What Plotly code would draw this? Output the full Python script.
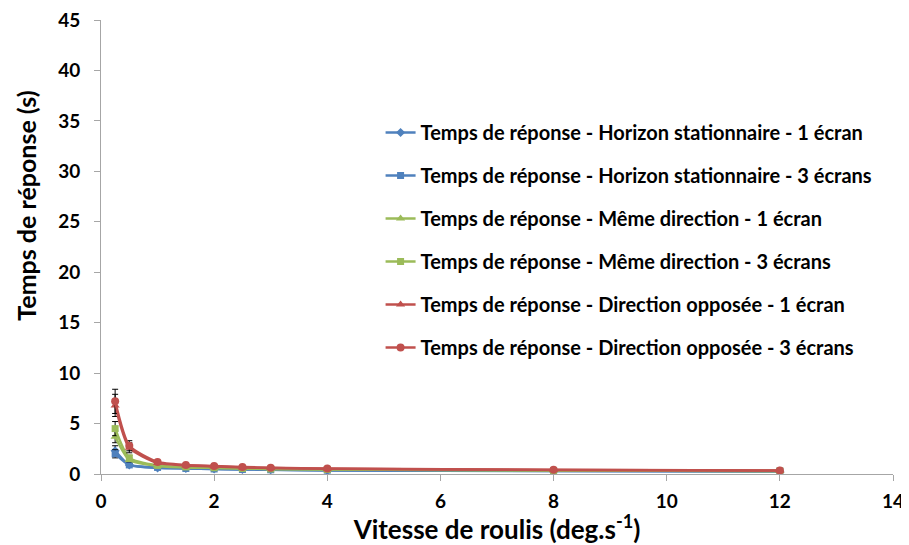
import plotly.graph_objects as go

x_vals = [0.25, 0.5, 1, 1.5, 2, 2.5, 3, 4, 8, 12]

hs1 = [2.3, 0.9, 0.6, 0.55, 0.5, 0.45, 0.42, 0.35, 0.3, 0.25]
hs1_err = [0.5, 0.15, 0.1, 0.08, 0.06, 0.05, 0.05, 0.04, 0.03, 0.03]
hs3 = [2.0, 0.9, 0.65, 0.55, 0.5, 0.45, 0.42, 0.38, 0.3, 0.28]
hs3_err = [0.4, 0.15, 0.1, 0.08, 0.06, 0.05, 0.05, 0.04, 0.03, 0.03]
md1 = [3.7, 1.4, 0.8, 0.65, 0.6, 0.55, 0.5, 0.45, 0.35, 0.3]
md1_err = [0.6, 0.2, 0.1, 0.08, 0.06, 0.05, 0.05, 0.04, 0.03, 0.03]
md3 = [4.5, 1.6, 0.85, 0.7, 0.62, 0.55, 0.5, 0.45, 0.35, 0.3]
md3_err = [0.7, 0.25, 0.1, 0.08, 0.06, 0.05, 0.05, 0.04, 0.03, 0.03]
do1 = [6.8, 2.6, 1.1, 0.85, 0.75, 0.65, 0.6, 0.52, 0.4, 0.35]
do1_err = [1.1, 0.5, 0.15, 0.1, 0.08, 0.06, 0.05, 0.05, 0.04, 0.03]
do3 = [7.2, 2.8, 1.2, 0.9, 0.8, 0.7, 0.62, 0.55, 0.42, 0.35]
do3_err = [1.2, 0.5, 0.15, 0.1, 0.08, 0.06, 0.05, 0.05, 0.04, 0.03]

names = [
    "Temps de réponse - Horizon stationnaire - 1 écran",
    "Temps de réponse - Horizon stationnaire - 3 écrans",
    "Temps de réponse - Même direction - 1 écran",
    "Temps de réponse - Même direction - 3 écrans",
    "Temps de réponse - Direction opposée - 1 écran",
    "Temps de réponse - Direction opposée - 3 écrans",
]

x_ticks = [0, 2, 4, 6, 8, 10, 12, 14]
y_ticks = [0, 5, 10, 15, 20, 25, 30, 35, 40, 45]

blue = "#4F81BD"
green = "#9BBB59"
red = "#C0504D"

series = [
    (hs1, hs1_err, blue, "diamond", 7),
    (hs3, hs3_err, blue, "square", 7),
    (md1, md1_err, green, "triangle-up", 8),
    (md3, md3_err, green, "square", 7),
    (do1, do1_err, red, "triangle-up", 8),
    (do3, do3_err, red, "circle", 8),
]

fig = go.Figure()
for i, (name, (y, e, c, sym, sz)) in enumerate(zip(names, series)):
    fig.add_trace(go.Scatter(
        x=x_vals, y=y, name=name, mode="lines+markers", legendgroup=f"g{i}",
        line=dict(color=c, width=2.5, shape="spline", smoothing=0.6),
        marker=dict(symbol=sym, size=sz, color=c),
        error_y=dict(type="data", array=e, color="black", thickness=1, width=3),
    ))

font_family = "Lato, Open Sans, sans-serif"
fig.update_layout(
    width=901, height=537,
    margin=dict(l=93, r=16, t=12, b=71, autoexpand=False),
    plot_bgcolor="white", paper_bgcolor="white",
    font=dict(family=font_family, color="black"),
    legend=dict(
        x=0.353, y=0.795, xanchor="left", yanchor="top",
        font=dict(size=20, family=font_family, weight="bold"),
        tracegroupgap=14, itemwidth=30,
        bgcolor="rgba(0,0,0,0)",
    ),
    xaxis=dict(
        range=[0, 14], tickvals=x_ticks, automargin=False,
        showline=True, linecolor="#A6A6A6", linewidth=1,
        ticks="outside", ticklen=6, tickcolor="#A6A6A6",
        showgrid=False, zeroline=False, ticklabelstandoff=4,
        ticklabeloverflow="allow",
        tickfont=dict(size=19, weight="bold"),
        title=dict(text="Vitesse de roulis (deg.s<sup>-1</sup>)",
                   font=dict(size=26, weight="bold"), standoff=4),
    ),
    yaxis=dict(
        range=[0, 45], tickvals=y_ticks, automargin=False,
        showline=True, linecolor="#A6A6A6", linewidth=1,
        ticks="outside", ticklen=6, tickcolor="#A6A6A6",
        showgrid=False, zeroline=False, ticklabelstandoff=10,
        ticklabeloverflow="allow",
        tickfont=dict(size=19, weight="bold"),
    ),
    annotations=[dict(
        text="Temps de réponse (s)", textangle=-90,
        xref="paper", yref="paper", x=-0.094, y=0.59,
        xanchor="center", yanchor="middle", showarrow=False,
        font=dict(size=25, weight="bold", family=font_family),
    )],
)

fig.write_html("out.html")
